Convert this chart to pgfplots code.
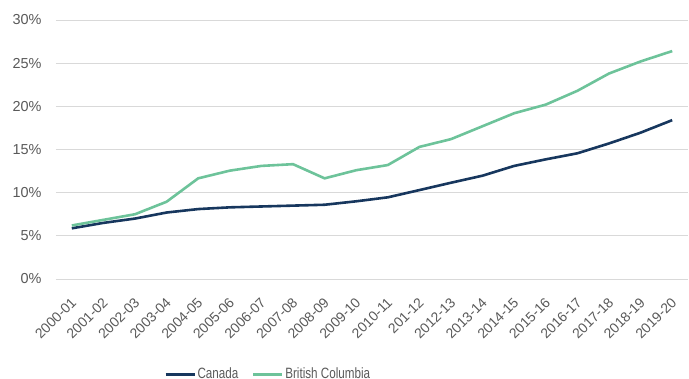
\documentclass[border=0pt]{standalone}
\usepackage{pgfplots}
\pgfplotsset{compat=1.18}
\usepackage{fontspec}
\setmainfont{Liberation Sans}
\newfontfamily\legendfont[FakeStretch=0.78]{Liberation Sans}
\definecolor{canada}{HTML}{17375E}
\definecolor{bc}{HTML}{6DC39A}
\definecolor{tickgray}{HTML}{595959}
\definecolor{gridgray}{HTML}{D9D9D9}
\begin{document}
\begin{tikzpicture}
\begin{axis}[
  at={(0,0)}, anchor=south west,
  scale only axis, width=632bp, height=259bp,
  xmin=-0.5, xmax=19.5, ymin=0, ymax=30,
  axis line style={draw=none},
  tick style={draw=none},
  ytick={0,5,...,30},
  yticklabel={\pgfmathprintnumber{\tick}\%},
  ymajorgrids, grid style={gridgray, line width=1bp},
  xtick={0,...,19},
  xticklabels={2000-01,2001-02,2002-03,2003-04,2004-05,2005-06,2006-07,2007-08,2008-09,2009-10,2010-11,201-12,2012-13,2013-14,2014-15,2015-16,2016-17,2017-18,2018-19,2019-20},
  xticklabel style={xshift=2bp, yshift=-21bp, rotate=45, anchor=east, font=\fontsize{14}{14}\selectfont, text=tickgray, inner sep=0bp},
  yticklabel style={font=\fontsize{14.5}{14.5}\selectfont, text=tickgray, xshift=-11bp},
  /pgf/number format/assume math mode=true,
  legend style={draw=none, fill=none, at={(108bp,-95bp)}, anchor=west, legend columns=2,
    font=\legendfont\fontsize{15}{15}\selectfont, text=tickgray, inner sep=0bp, outer sep=0bp,
    nodes={inner sep=1.5bp},
    /tikz/every even column/.append style={column sep=12bp}},
  legend cell align=left,
  legend image code/.code={\draw[#1, line width=3bp] (0bp,0bp) -- (29bp,0bp);},
]
\addplot[canada, line width=2.6bp] coordinates {
(0,5.87) (1,6.5) (2,7.0) (3,7.7) (4,8.1) (5,8.3) (6,8.4) (7,8.5) (8,8.6) (9,9.0)
(10,9.46) (11,10.3) (12,11.15) (13,11.97) (14,13.1) (15,13.86) (16,14.56) (17,15.7) (18,16.95) (19,18.4)};
\addlegendentry{Canada}
\addplot[bc, line width=2.6bp] coordinates {
(0,6.2) (1,6.85) (2,7.5) (3,8.95) (4,11.66) (5,12.55) (6,13.1) (7,13.3) (8,11.66) (9,12.6)
(10,13.2) (11,15.3) (12,16.2) (13,17.7) (14,19.2) (15,20.2) (16,21.8) (17,23.8) (18,25.2) (19,26.4)};
\addlegendentry{British Columbia}
\end{axis}
\pgfresetboundingbox
\path (-56bp,-100bp) rectangle (633bp,279bp);
\end{tikzpicture}
\end{document}
